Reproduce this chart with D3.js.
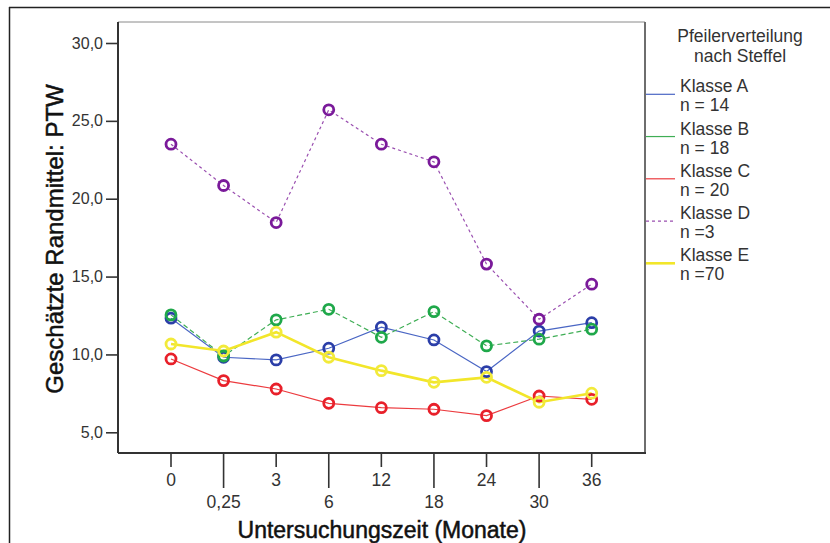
<!DOCTYPE html>
<html>
<head>
<meta charset="utf-8">
<script src="https://cdn.jsdelivr.net/npm/d3@7"></script>
<style>
  html, body { margin: 0; padding: 0; background: #fff; }
  svg { display: block; font-family: "Liberation Sans", Arial, sans-serif; }
</style>
</head>
<body>
<svg id="chart" width="830" height="543"></svg>
<script>
// Untersuchungszeitpunkte (Monate) – kategoriale x-Achse
const zeitpunkte = ["0", "0,25", "3", "6", "12", "18", "24", "30", "36"];

// Geschätzte Randmittel PTW je Klasse
const klasseA = [12.33, 9.82, 9.65, 10.40, 11.75, 10.93, 8.90, 11.50, 12.04];
const klasseB = [12.54, 9.90, 12.22, 12.90, 11.10, 12.75, 10.55, 10.98, 11.62];
const klasseC = [9.71, 8.32, 7.78, 6.86, 6.58, 6.48, 6.07, 7.33, 7.12];
const klasseD = [23.50, 20.85, 18.47, 25.71, 23.50, 22.37, 15.80, 12.26, 14.51];
const klasseE = [10.67, 10.22, 11.43, 9.82, 8.96, 8.21, 8.53, 6.93, 7.51];

const klassenNamen = ["Klasse A", "Klasse B", "Klasse C", "Klasse D", "Klasse E"];
const klassenN = ["n = 14", "n = 18", "n = 20", "n =3", "n =70"];

const yTicks = [5, 10, 15, 20, 25, 30];

const serien = [
  { name: klassenNamen[0], n: klassenN[0], werte: klasseA, line: "#4a66c4", marker: "#2b3ea8", dash: null, width: 1.2 },
  { name: klassenNamen[1], n: klassenN[1], werte: klasseB, line: "#3fae55", marker: "#1fa84a", dash: "5,3", width: 1.2 },
  { name: klassenNamen[2], n: klassenN[2], werte: klasseC, line: "#ec3b3f", marker: "#e8202a", dash: null, width: 1.2 },
  { name: klassenNamen[3], n: klassenN[3], werte: klasseD, line: "#9a4fb0", marker: "#7a1a9a", dash: "3,3", width: 1.2 },
  { name: klassenNamen[4], n: klassenN[4], werte: klasseE, line: "#f2e62a", marker: "#f2ea3a", dash: null, width: 2.6 }
];

const svg = d3.select("#chart");

// Äußerer Rahmen
svg.append("line").attr("x1", 9).attr("x2", 830).attr("y1", 7.5).attr("y2", 7.5)
  .attr("stroke", "#222").attr("stroke-width", 1.5);
svg.append("line").attr("x1", 9.5).attr("x2", 9.5).attr("y1", 7).attr("y2", 543)
  .attr("stroke", "#222").attr("stroke-width", 1.5);

const plot = { left: 118, right: 645, top: 22, bottom: 453 };

const x = d3.scalePoint()
  .domain(zeitpunkte)
  .range([171, 591.7]);

const y = d3.scaleLinear()
  .domain([5, 30])
  .range([432.3, 43]);

// Plotrahmen
svg.append("line").attr("x1", plot.left).attr("x2", plot.right).attr("y1", plot.top).attr("y2", plot.top)
  .attr("stroke", "#8a8a8a").attr("stroke-width", 1);
svg.append("line").attr("x1", plot.right).attr("x2", plot.right).attr("y1", plot.top).attr("y2", plot.bottom)
  .attr("stroke", "#6e6e6e").attr("stroke-width", 2);

// y-Achse
const yAxis = d3.axisLeft(y)
  .tickValues(yTicks)
  .tickSize(12)
  .tickPadding(3)
  .tickFormat(d => d3.format(".1f")(d).replace(".", ","));

const gy = svg.append("g")
  .attr("transform", `translate(${plot.left},0)`)
  .call(yAxis);
gy.select(".domain").attr("d", `M0,${plot.top}V${plot.bottom}`)
  .attr("stroke", "#333").attr("stroke-width", 2);
gy.selectAll(".tick line").attr("stroke", "#333").attr("stroke-width", 1.6);
gy.selectAll(".tick text")
  .attr("font-size", 16)
  .attr("fill", "#333")
  .attr("font-family", "'Liberation Sans', Arial, sans-serif");

// x-Achse mit abwechselnd kurzen und langen Teilstrichen
const gx = svg.append("g").attr("transform", `translate(0,${plot.bottom})`);
gx.append("line").attr("x1", plot.left).attr("x2", plot.right + 1).attr("y1", 0).attr("y2", 0)
  .attr("stroke", "#333").attr("stroke-width", 2);
const xt = gx.selectAll("g.xtick").data(zeitpunkte).join("g")
  .attr("class", "xtick")
  .attr("transform", d => `translate(${x(d)},0)`);
xt.append("line")
  .attr("y1", 0)
  .attr("y2", (d, i) => i % 2 === 0 ? 14 : 35)
  .attr("stroke", "#333").attr("stroke-width", 1.6);
xt.append("text")
  .attr("y", (d, i) => i % 2 === 0 ? 33 : 55)
  .attr("text-anchor", "middle")
  .attr("font-size", 17.5)
  .attr("fill", "#333")
  .text(d => d);

// Achsentitel
svg.append("text")
  .attr("x", 382).attr("y", 538)
  .attr("text-anchor", "middle")
  .attr("font-size", 23)
  .attr("fill", "#111")
  .attr("stroke", "#111").attr("stroke-width", 0.5)
  .text("Untersuchungszeit (Monate)");

svg.append("text")
  .attr("transform", "translate(63,239) rotate(-90)")
  .attr("text-anchor", "middle")
  .attr("font-size", 24)
  .attr("fill", "#111")
  .attr("stroke", "#111").attr("stroke-width", 0.5)
  .text("Geschätzte Randmittel: PTW");

// Linien und Marker
const linie = d3.line()
  .x((d, i) => x(zeitpunkte[i]))
  .y(d => y(d));

const gSerien = svg.append("g");
serien.forEach(s => {
  gSerien.append("path")
    .datum(s.werte)
    .attr("d", linie)
    .attr("fill", "none")
    .attr("stroke", s.line)
    .attr("stroke-width", s.width)
    .attr("stroke-dasharray", s.dash);
});
serien.forEach(s => {
  gSerien.append("g").selectAll("circle").data(s.werte).join("circle")
    .attr("cx", (d, i) => x(zeitpunkte[i]))
    .attr("cy", d => y(d))
    .attr("r", 5)
    .attr("fill", "none")
    .attr("stroke", s.marker)
    .attr("stroke-width", 2.8);
});

// Legende
const leg = svg.append("g");
leg.append("text").attr("x", 740).attr("y", 41.5).attr("text-anchor", "middle")
  .attr("font-size", 17.5).attr("fill", "#333").text("Pfeilerverteilung");
leg.append("text").attr("x", 740).attr("y", 61.5).attr("text-anchor", "middle")
  .attr("font-size", 17.5).attr("fill", "#333").text("nach Steffel");

const legY = d3.scalePoint().domain(klassenNamen).range([94.3, 263.3]);
const eintrag = leg.selectAll("g.eintrag").data(serien).join("g")
  .attr("class", "eintrag")
  .attr("transform", d => `translate(0,${legY(d.name)})`);
eintrag.append("line")
  .attr("x1", plot.right + 1).attr("x2", 675)
  .attr("stroke", d => d.line)
  .attr("stroke-width", d => d.width === 1.2 ? 1.2 : 2.6)
  .attr("stroke-dasharray", d => d.name === "Klasse D" ? "3,3" : null);
eintrag.append("text").attr("x", 680).attr("y", -2)
  .attr("font-size", 17.5).attr("fill", "#333").text(d => d.name);
eintrag.append("text").attr("x", 680).attr("y", 17)
  .attr("font-size", 17.5).attr("fill", "#333").text(d => d.n);
</script>
</body>
</html>
